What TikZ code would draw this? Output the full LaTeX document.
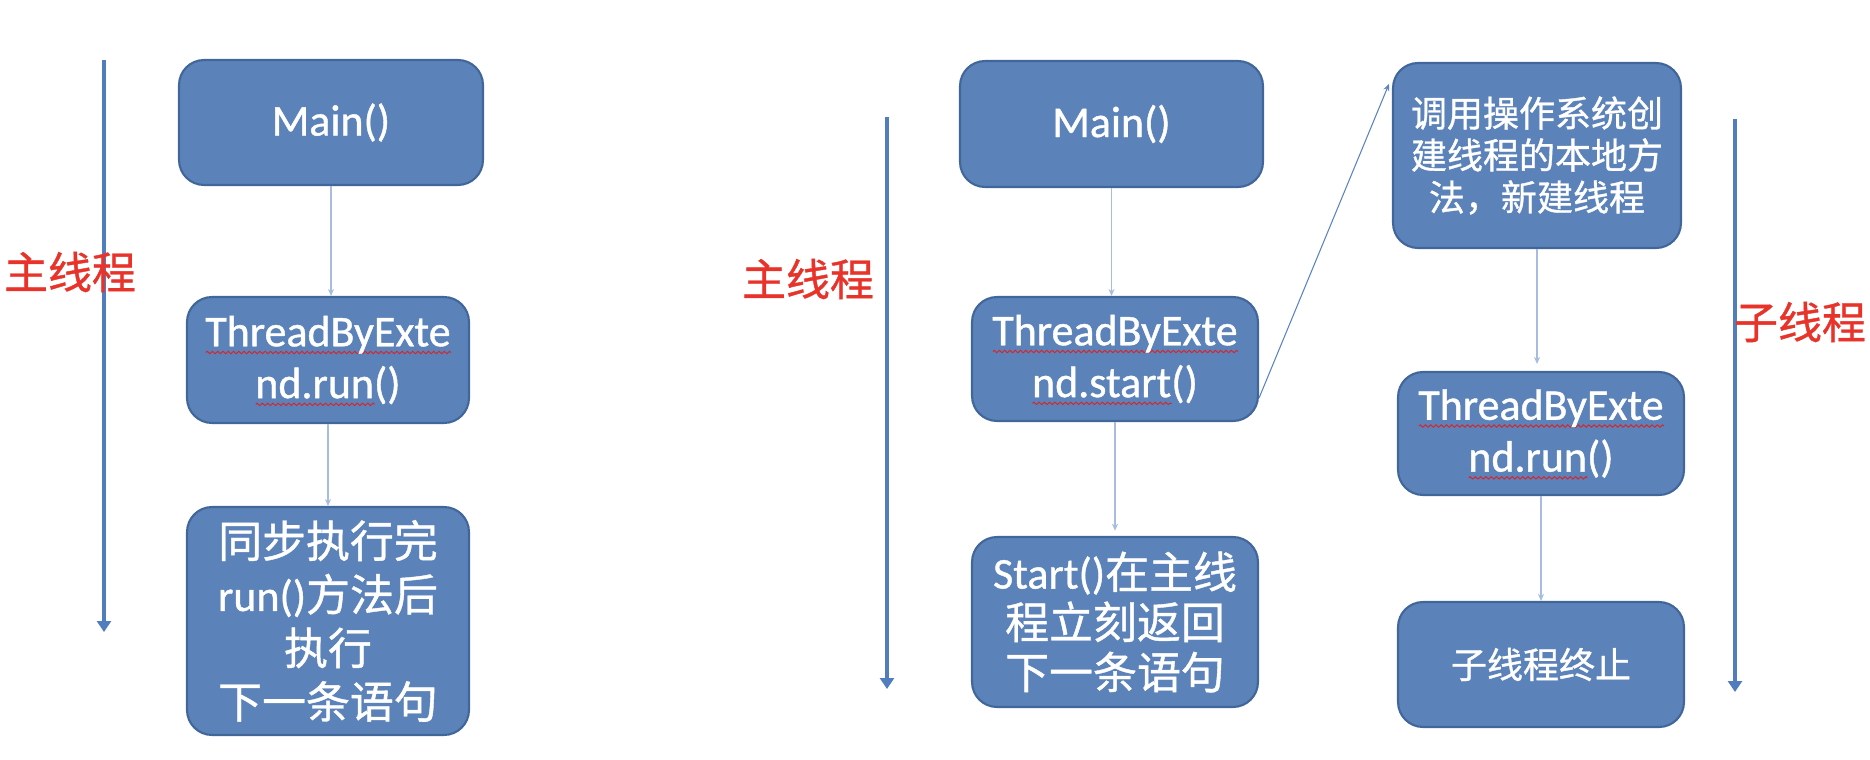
\documentclass[tikz,border=0pt]{standalone}
\usepackage{fontspec}
\setmainfont{Noto Sans CJK SC}[RawFeature={embolden=0.9}]
\newfontfamily\latinfont{Carlito}[RawFeature={embolden=0.9}]
\usetikzlibrary{calc, arrows.meta, decorations.pathmorphing}
\definecolor{boxfill}{HTML}{5B82B9}
\definecolor{boxedge}{HTML}{41679A}
\definecolor{threadblue}{HTML}{4F7DBE}
\definecolor{linkblue}{HTML}{A6BDDF}
\definecolor{spawnblue}{HTML}{5A83C2}
\definecolor{labelred}{HTML}{E8332A}
\definecolor{spellred}{HTML}{E02020}
\newcommand{\boxfont}{\fontsize{25}{29.5}\selectfont}
\newcommand{\smallboxfont}{\fontsize{20.5}{23.9}\selectfont}
\newcommand{\lat}[1]{{\latinfont #1}}
\newlength{\spellwd}
\newcommand{\spell}[1]{\settowidth{\spellwd}{\lat{#1}}%
    \rlap{\smash{\raisebox{-4.5pt}{\tikz[x=1pt, y=1pt, sharp corners]
        \draw[spellred, line width=0.5pt, decorate,
            decoration={zigzag, segment length=3pt, amplitude=0.7pt}]
        (0pt,0pt) -- (\spellwd,0pt);}}}\lat{#1}}

\begin{document}
\begin{tikzpicture}[
    x=0.02cm, y=-0.02cm,
    >=Stealth,
    font=\boxfont,
    stepbox/.style={rounded corners=0.5cm, fill=boxfill, draw=boxedge,
        line width=1.2pt, text=white, align=center, inner sep=0pt},
    thread/.style={line width=2.8pt, threadblue,
        -{Triangle[width=0.28cm, length=0.22cm]}},
    link/.style={line width=0.7pt, linkblue, -{Stealth[length=4pt, width=3.5pt]}},
    threadlabel/.style={text=labelred, font=\fontsize{25}{29.5}\selectfont}
]
    \useasboundingbox (0,0) rectangle (1870,760);

    % 1. Left column: run() called directly
    \node[stepbox, minimum width=6.08cm, minimum height=2.5cm] (mainA) at (331,122.5) {\lat{Main()}};
    \node[stepbox, minimum width=5.64cm, minimum height=2.52cm] (runA) at (328,360)
        {\spell{ThreadByExte}\\\spell{nd.run}\lat{()}};
    \node[stepbox, minimum width=5.64cm, minimum height=4.56cm,
        font=\fontsize{25}{30.5}\selectfont] (syncA) at (328,621)
        {同步执行完\\\lat{run()}方法后\\执行\\下一条语句};
    \draw[link] (mainA.south) -- (mainA.south |- runA.north);
    \draw[link] (runA.south) -- (runA.south |- syncA.north);

    \coordinate (topA) at (104,60);
    \coordinate (endA) at (104,632);
    \draw[thread] (topA) -- (endA);
    \node[threadlabel] (labA) at (70,272) {主线程};

    % 2. Middle column: start() on the main thread
    \node[stepbox, minimum width=6.06cm, minimum height=2.52cm] (mainB) at (1111.5,124) {\lat{Main()}};
    \node[stepbox, minimum width=5.72cm, minimum height=2.48cm] (startB) at (1115,359)
        {\spell{ThreadByExte}\\\spell{nd.start}\lat{()}};
    \node[stepbox, minimum width=5.72cm, minimum height=3.4cm,
        font=\fontsize{25}{28.5}\selectfont] (nextB) at (1115,622)
        {\lat{Start()}在主线\\程立刻返回\\下一条语句};
    \draw[link] (mainB.south) -- (mainB.south |- startB.north);
    \draw[link, shorten >=3pt] (startB.south) -- (startB.south |- nextB.north);

    \coordinate (topB) at (887,117);
    \coordinate (endB) at (887,689);
    \draw[thread] (topB) -- (endB);
    \node[threadlabel] (labB) at (808,279) {主线程};

    % 3. Right column: the child thread
    \node[stepbox, minimum width=5.76cm, minimum height=3.7cm, font=\smallboxfont] (nativeC) at (1537,155.5)
        {调用操作系统创\\建线程的本地方\\法，新建线程};
    \node[stepbox, minimum width=5.72cm, minimum height=2.46cm] (runC) at (1541,433.5)
        {\spell{ThreadByExte}\\\spell{nd.run}\lat{()}};
    \node[stepbox, minimum width=5.72cm, minimum height=2.5cm, font=\smallboxfont] (endC) at (1541,664.5)
        {子线程终止};
    \draw[link, shorten >=4pt] (nativeC.south) -- (nativeC.south |- runC.north);
    \draw[link] (runC.south) -- (runC.south |- endC.north);

    \coordinate (topC) at (1735,119);
    \coordinate (endCT) at (1735,692);
    \draw[thread] (topC) -- (endCT);
    \node[threadlabel] (labC) at (1800,322) {子线程};

    % start() spawns the new thread
    \draw[line width=0.6pt, spawnblue, -{Stealth[length=4pt, width=3.5pt]}]
        ([yshift=0.48cm]startB.south east) -- ([xshift=-0.06cm, yshift=-0.44cm]nativeC.north west);

\end{tikzpicture}
\end{document}
